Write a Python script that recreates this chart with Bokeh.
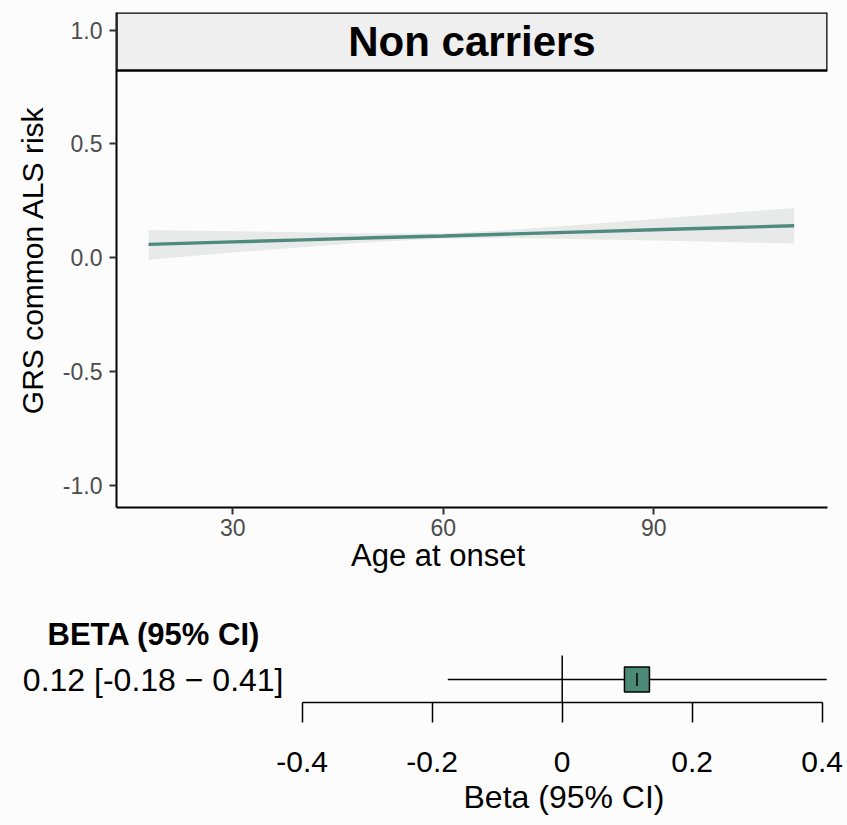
from bokeh.plotting import figure
from bokeh.models import (Range1d, FixedTicker, NumeralTickFormatter, CustomJSTickFormatter,
                          Label, BoxAnnotation, Title)
from bokeh.layouts import column
from bokeh.embed import file_html
from bokeh.resources import INLINE
import numpy as np

# ---------------- data: smooth (age at onset vs GRS) ----------------
ages = [18, 30, 40, 50, 60, 70, 80, 90, 100, 110]
fit = [0.059, 0.070, 0.079, 0.088, 0.096, 0.105, 0.114, 0.123, 0.132, 0.141]
lower = [-0.008, 0.023, 0.046, 0.069, 0.084, 0.087, 0.082, 0.076, 0.069, 0.063]
upper = [0.122, 0.117, 0.112, 0.107, 0.108, 0.123, 0.146, 0.170, 0.195, 0.219]
panel_title = "Non carriers"
x_title = "Age at onset"
y_title = "GRS common ALS risk"
x_ticks = [30, 60, 90]
y_ticks = [-1.0, -0.5, 0.0, 0.5, 1.0]

# ---------------- data: forest ----------------
rows = [1]
beta = [0.115]
ci_low = [-0.176]
ci_high = [0.407]
row_labels = ["0.12 [-0.18 \u2212 0.41]"]
forest_header = "BETA (95% CI)"
forest_ticks = [-0.4, -0.2, 0, 0.2, 0.4]
forest_title = "Beta (95% CI)"

BG = "#fcfcfc"
FONT = "Liberation Sans"
TEAL = "#4e8b7c"

# ---------------- top panel ----------------
x0, x1 = 13.43, 114.75
y0, y1 = -1.096, 1.077
p = figure(width=847, height=590, x_range=Range1d(x0, x1), y_range=Range1d(y0, y1),
           output_backend="svg", toolbar_location=None, frame_align=False,
           min_border_left=116, min_border_right=20, min_border_top=12, min_border_bottom=83,
           background_fill_color=BG, border_fill_color=BG, outline_line_color=None)
p.grid.visible = False

p.varea(x=ages, y1=lower, y2=upper, fill_color="#e8eaea", fill_alpha=1)
p.line(x=ages, y=fit, line_width=3.4, line_color=TEAL)

for ax in (p.xaxis[0], p.yaxis[0]):
    ax.axis_line_width = 2
    ax.axis_line_color = "black"
    ax.major_tick_line_color = "#333333"
    ax.major_tick_line_width = 2
    ax.major_tick_out = 7
    ax.major_tick_in = 0
    ax.minor_tick_line_color = None
    ax.major_label_text_font = FONT
    ax.major_label_text_font_size = "23px"
    ax.major_label_text_color = "#4d4d4d"

p.xaxis.ticker = FixedTicker(ticks=x_ticks)
p.xaxis.major_label_standoff = 4
p.yaxis.ticker = FixedTicker(ticks=y_ticks)
p.yaxis.formatter = NumeralTickFormatter(format="0.0")
p.yaxis.major_label_standoff = 7
p.yaxis.axis_label = y_title
p.yaxis.axis_label_text_font = FONT
p.yaxis.axis_label_text_font_size = "30px"
p.yaxis.axis_label_text_font_style = "normal"
p.yaxis.axis_label_text_color = "black"
p.yaxis.axis_label_standoff = 11

strip_bottom = y1 - 58 / 227.8
p.add_layout(BoxAnnotation(bottom=strip_bottom, fill_color="#efefef", fill_alpha=1,
                           line_color="black", line_alpha=1, line_width=2.5))
p.add_layout(Label(x=(x0 + x1) / 2, y=y1 - 29 / 227.8, text=panel_title,
                   text_align="center", text_baseline="middle", text_font=FONT,
                   text_font_size="42px", text_font_style="bold", text_color="black"))
p.add_layout(Title(text=x_title, align="left", offset=350.5 - 116, standoff=-6,
                   text_font=FONT, text_font_size="31px", text_font_style="normal",
                   text_color="black"), "below")

# ---------------- forest panel ----------------
fx0, fx1 = -561.7 / 650, (847 - 561.7) / 650
q = figure(width=847, height=235, x_range=Range1d(fx0, fx1), y_range=Range1d(0, 102 / 23),
           output_backend="svg", toolbar_location=None, y_axis_location=None, frame_align=False,
           min_border_left=0, min_border_right=0, min_border_top=10, min_border_bottom=123,
           background_fill_color=BG, border_fill_color=BG, outline_line_color=None)
q.grid.visible = False

q.segment(x0=[0], y0=[0], x1=[0], y1=[47 / 23], line_color="black", line_width=1.5)
q.segment(x0=ci_low, y0=rows, x1=ci_high, y1=rows, line_color="black", line_width=1.5)
q.scatter(x=beta, y=rows, marker="square", size=25, fill_color="#4a8a77",
          line_color="black", line_width=1.5)
q.scatter(x=beta, y=rows, marker="dash", angle=np.pi / 2, size=13,
          line_color="black", line_width=1.5)

xa = q.xaxis[0]
xa.ticker = FixedTicker(ticks=forest_ticks)
xa.formatter = CustomJSTickFormatter(code="return Math.abs(tick) < 1e-9 ? '0' : tick.toFixed(1)")
xa.bounds = (-0.4, 0.4)
xa.axis_line_width = 1.5
xa.axis_line_color = "black"
xa.major_tick_line_width = 1.5
xa.major_tick_line_color = "black"
xa.major_tick_out = 20
xa.major_tick_in = 0
xa.minor_tick_line_color = None
xa.major_label_text_font = FONT
xa.major_label_text_font_size = "30px"
xa.major_label_text_color = "black"
xa.major_label_standoff = 29

q.add_layout(Label(x=47, y=(702 - 633.5) / 23, x_units="screen", text=forest_header,
                   text_align="left", text_baseline="middle", text_font=FONT,
                   text_font_size="31px", text_font_style="bold", text_color="black"))
for r, t in zip(rows, row_labels):
    q.add_layout(Label(x=283, y=r, x_units="screen", text=t,
                       text_align="right", text_baseline="middle", text_font=FONT,
                       text_font_size="32px", text_color="black"))
q.add_layout(Title(text=forest_title, align="left", offset=463, standoff=5,
                   text_font=FONT, text_font_size="32px", text_font_style="normal",
                   text_color="black"), "below")

layout = column(p, q, spacing=0)
open("out.html", "w").write(file_html(layout, INLINE))
